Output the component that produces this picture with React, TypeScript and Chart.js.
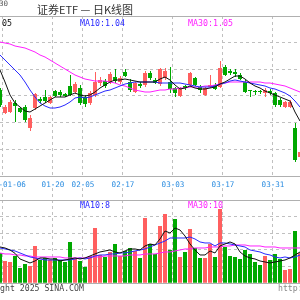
import React, { useEffect, useRef } from "react";
import { Chart, registerables } from "chart.js";

Chart.register(...registerables);

// ---------- data ----------
const days = [
  "01-03", "01-06", "01-07", "01-08", "01-09", "01-10", "01-13", "01-14", "01-15", "01-16",
  "01-17", "01-20", "01-21", "01-22", "01-23", "01-24", "01-27", "02-05", "02-06", "02-07",
  "02-10", "02-11", "02-12", "02-13", "02-14", "02-17", "02-18", "02-19", "02-20", "02-21",
  "02-24", "02-25", "02-26", "02-27", "02-28", "03-03", "03-04", "03-05", "03-06", "03-07",
  "03-10", "03-11", "03-12", "03-13", "03-14", "03-17", "03-18", "03-19", "03-20", "03-21",
  "03-24", "03-25", "03-26", "03-27", "03-28", "03-31", "04-01", "04-02", "04-03", "04-07",
  "04-08",
];

const openP = [
  1.052, 1.006, 1.008, 1.026, 1.016, 1.018, 0.976, 1.016, 1.034, 1.038,
  1.026, 1.050, 1.048, 1.044, 1.060, 1.048, 1.056, 1.038, 1.026, 1.042,
  1.066, 1.070, 1.068, 1.078, 1.068, 1.088, 1.068, 1.048, 1.064, 1.062,
  1.086, 1.072, 1.064, 1.076, 1.068, 1.056, 1.040, 1.060, 1.062, 1.076,
  1.058, 1.042, 1.058, 1.062, 1.058, 1.098, 1.090, 1.088, 1.082, 1.068,
  1.052, 1.050, 1.050, 1.046, 1.050, 1.046, 1.032, 1.018, 1.018, 0.976,
  0.918,
];
const closeP = [
  1.022, 1.018, 1.028, 1.020, 1.008, 0.992, 0.996, 1.044, 1.030, 1.030,
  1.038, 1.040, 1.042, 1.040, 1.042, 1.064, 1.026, 1.024, 1.046, 1.068,
  1.072, 1.060, 1.084, 1.070, 1.076, 1.080, 1.052, 1.066, 1.060, 1.086,
  1.076, 1.066, 1.094, 1.090, 1.054, 1.046, 1.054, 1.056, 1.086, 1.062,
  1.052, 1.056, 1.062, 1.054, 1.096, 1.082, 1.086, 1.084, 1.074, 1.048,
  1.050, 1.048, 1.048, 1.052, 1.046, 1.022, 1.022, 1.028, 1.028, 0.912,
  0.928,
];
const highP = [
  1.056, 1.022, 1.032, 1.032, 1.018, 1.022, 1.002, 1.046, 1.038, 1.052,
  1.040, 1.052, 1.052, 1.046, 1.082, 1.068, 1.062, 1.042, 1.050, 1.088,
  1.078, 1.074, 1.088, 1.094, 1.080, 1.094, 1.074, 1.068, 1.068, 1.090,
  1.090, 1.076, 1.096, 1.096, 1.098, 1.058, 1.058, 1.062, 1.088, 1.078,
  1.062, 1.058, 1.082, 1.066, 1.110, 1.102, 1.094, 1.094, 1.086, 1.072,
  1.052, 1.052, 1.052, 1.056, 1.054, 1.048, 1.036, 1.030, 1.032, 0.986,
  0.932,
];
const lowP = [
  1.018, 1.004, 1.006, 0.988, 1.006, 0.988, 0.970, 1.012, 1.026, 1.026,
  1.024, 1.038, 1.038, 1.038, 1.040, 1.044, 1.022, 1.018, 1.022, 1.038,
  1.060, 1.056, 1.064, 1.066, 1.064, 1.078, 1.048, 1.046, 1.056, 1.058,
  1.072, 1.064, 1.060, 1.072, 1.046, 1.038, 1.038, 1.052, 1.058, 1.060,
  1.046, 1.040, 1.056, 1.052, 1.056, 1.080, 1.082, 1.078, 1.072, 1.046,
  1.038, 1.042, 1.044, 1.038, 1.042, 1.018, 1.018, 1.016, 1.016, 0.908,
  0.916,
];

const ma5 = [
  1.092, 1.068, 1.042, 1.026, 1.018, 1.010, 1.008, 1.014, 1.020, 1.026,
  1.032, 1.038, 1.038, 1.038, 1.042, 1.046, 1.042, 1.040, 1.042, 1.048,
  1.056, 1.062, 1.068, 1.072, 1.072, 1.074, 1.072, 1.070, 1.068, 1.068,
  1.068, 1.068, 1.074, 1.078, 1.072, 1.062, 1.054, 1.056, 1.060, 1.056,
  1.054, 1.054, 1.056, 1.058, 1.064, 1.068, 1.074, 1.080, 1.080, 1.074,
  1.066, 1.060, 1.056, 1.050, 1.046, 1.042, 1.038, 1.034, 1.030, 1.008,
  0.990,
];
const ma10 = [
  1.122, 1.112, 1.102, 1.092, 1.082, 1.068, 1.052, 1.038, 1.026, 1.020,
  1.016, 1.016, 1.018, 1.022, 1.028, 1.036, 1.038, 1.036, 1.038, 1.042,
  1.046, 1.050, 1.052, 1.056, 1.060, 1.064, 1.066, 1.068, 1.068, 1.068,
  1.068, 1.068, 1.066, 1.066, 1.066, 1.066, 1.066, 1.064, 1.062, 1.060,
  1.058, 1.058, 1.058, 1.060, 1.064, 1.066, 1.070, 1.072, 1.070, 1.068,
  1.066, 1.064, 1.062, 1.060, 1.056, 1.054, 1.050, 1.046, 1.040, 1.030,
  1.018,
];
const ma30 = [
  1.148, 1.146, 1.144, 1.140, 1.138, 1.136, 1.132, 1.128, 1.122, 1.118,
  1.112, 1.106, 1.100, 1.094, 1.088, 1.082, 1.078, 1.074, 1.072, 1.070,
  1.070, 1.070, 1.068, 1.066, 1.062, 1.060, 1.056, 1.052, 1.050, 1.048,
  1.048, 1.050, 1.052, 1.052, 1.054, 1.054, 1.056, 1.056, 1.058, 1.058,
  1.058, 1.060, 1.060, 1.062, 1.064, 1.066, 1.068, 1.068, 1.068, 1.068,
  1.068, 1.068, 1.068, 1.066, 1.066, 1.064, 1.062, 1.060, 1.056, 1.052,
  1.048,
];

const volume = [
  9.1, 6.7, 6.4, 8.2, 4.6, 5.8, 5.2, 11.2, 7.0, 7.6,
  7.0, 7.6, 7.0, 6.4, 12.4, 7.3, 6.7, 4.9, 8.2, 16.6,
  8.5, 7.9, 9.4, 11.8, 8.2, 9.7, 10.6, 9.7, 7.6, 19.6,
  11.8, 8.8, 17.2, 20.8, 10.0, 19.3, 7.9, 9.4, 16.3, 10.6,
  7.6, 7.6, 11.8, 7.9, 22.3, 10.9, 8.2, 7.9, 7.3, 10.0,
  8.8, 6.4, 5.5, 8.2, 7.0, 8.8, 7.3, 4.0, 4.3, 15.7,
  9.1,
];
const volMa5 = [
  10.9, 10.6, 10.0, 9.0, 7.3, 6.7, 6.1, 6.7, 7.6, 7.6,
  7.3, 7.3, 6.7, 7.0, 7.3, 7.6, 7.3, 7.6, 8.2, 8.8,
  9.4, 9.7, 10.0, 9.4, 9.1, 9.7, 10.3, 10.3, 10.0, 11.2,
  11.8, 11.5, 13.3, 15.7, 15.1, 16.6, 16.0, 14.2, 11.8, 10.0,
  8.5, 8.5, 9.7, 9.1, 11.2, 11.8, 12.4, 11.8, 9.4, 8.2,
  7.6, 7.3, 6.7, 6.4, 6.1, 6.4, 6.7, 7.0, 7.6, 8.5,
  9.4,
];
const volMa10 = [
  10.6, 10.3, 10.0, 9.7, 9.1, 8.5, 7.9, 7.6, 7.3, 7.0,
  7.0, 7.0, 7.0, 7.0, 7.0, 7.3, 7.6, 7.3, 7.6, 8.2,
  8.5, 8.5, 8.8, 8.8, 9.1, 9.1, 9.4, 9.7, 10.0, 10.3,
  10.9, 11.5, 12.1, 12.7, 13.6, 13.6, 13.6, 13.6, 13.9, 13.3,
  12.4, 12.1, 12.1, 11.2, 12.1, 12.1, 11.8, 11.5, 11.2, 10.9,
  10.0, 9.7, 9.4, 8.8, 8.5, 7.9, 7.6, 7.9, 7.6, 7.9,
  8.5,
];
const volMa30 = [
  9.1, 8.8, 8.8, 8.5, 8.5, 8.2, 8.2, 7.9, 7.9, 7.9,
  7.9, 7.9, 7.9, 7.6, 7.6, 7.6, 7.6, 7.6, 7.9, 7.9,
  7.9, 8.2, 8.2, 8.2, 8.2, 8.2, 8.5, 8.5, 8.5, 8.8,
  8.8, 8.8, 9.1, 9.4, 9.4, 9.7, 10.0, 10.3, 10.3, 10.6,
  10.6, 10.6, 10.9, 10.9, 10.9, 11.2, 11.2, 11.5, 11.5, 11.5,
  11.2, 11.2, 11.2, 10.9, 10.9, 10.9, 10.6, 10.6, 10.6, 10.6,
  10.6,
];

const tickDays = ["01-06", "01-20", "02-05", "02-17", "03-03", "03-17", "03-31"];
const tickTexts = ["2025-01-06", "01-20", "02-05", "02-17", "03-03", "03-17", "03-31"];

const titleText = "证券ETF — 日K线图";
const cornerText = "30";
const priceMaTexts = ["MA5:1.05", "MA10:1.04", "MA30:1.05"];
const volMaTexts = ["MA10:8", "MA30:10"];
const copyrightText = "Copyright 2025 SINA.COM";
const urlText = "http://finance.sina.com.cn";

// ---------- styles ----------
const UP = "#ff5f5f";
const DOWN = "#00a800";
const C_MA5 = "#111111";
const C_MA10 = "#2a2aff";
const C_MA30 = "#ff20ff";
const GRID = "#c0c0c0";
const FRAME = "#b0b0b0";
const AXIS_TEXT = "#2a8ce0";
const MONO = '"DejaVu Sans Mono", monospace';

const candleColor = days.map((_, i) => (closeP[i] >= openP[i] ? UP : DOWN));
const tickIndex = new Map<number, string>();
tickDays.forEach((d, k) => tickIndex.set(days.indexOf(d), tickTexts[k]));
const vGridColor = (c: any) => (tickIndex.has(c.index) ? GRID : "rgba(0,0,0,0)");

const framePlugin = {
  id: "frame",
  beforeDatasetsDraw(chart: any) {
    const { ctx, chartArea: a } = chart;
    const t = Math.round(a.top - 0.5) + 0.5;
    const b = Math.round(a.bottom - 0.5) + 0.5;
    ctx.save();
    ctx.strokeStyle = FRAME;
    ctx.lineWidth = 1;
    ctx.setLineDash([]);
    ctx.beginPath();
    ctx.moveTo(a.left, t);
    ctx.lineTo(a.right, t);
    ctx.moveTo(a.left, b);
    ctx.lineTo(a.right, b);
    ctx.stroke();
    ctx.restore();
  },
};

type TextItem = { text: string; x: number; y: number; font: string; color: string; align?: CanvasTextAlign };
const textPlugin = (id: string, items: TextItem[]) => ({
  id,
  afterDraw(chart: any) {
    const ctx = chart.ctx as CanvasRenderingContext2D;
    ctx.save();
    for (const t of items) {
      ctx.font = t.font;
      ctx.fillStyle = t.color;
      ctx.textAlign = t.align || "left";
      ctx.textBaseline = "alphabetic";
      ctx.fillText(t.text, t.x, t.y);
    }
    ctx.restore();
  },
});

const lineDs = (label: string, data: number[], color: string) => ({
  type: "line" as const,
  label,
  data,
  borderColor: color,
  borderWidth: 1,
  pointRadius: 0,
  tension: 0,
  fill: false,
  order: 0,
});

export default function App() {
  const priceRef = useRef<HTMLCanvasElement>(null);
  const volRef = useRef<HTMLCanvasElement>(null);

  useEffect(() => {
    const priceChart = new Chart(priceRef.current!, {
      type: "bar",
      data: {
        labels: days,
        datasets: [
          lineDs("MA5", ma5, C_MA5),
          lineDs("MA10", ma10, C_MA10),
          lineDs("MA30", ma30, C_MA30),
          {
            label: "body",
            data: days.map((_, i) => [openP[i], closeP[i]]),
            backgroundColor: candleColor,
            barThickness: 4,
            grouped: false,
            minBarLength: 1,
            inflateAmount: 0,
            borderWidth: 0,
            order: 1,
          },
          {
            label: "wick",
            xAxisID: "xw",
            data: days.map((_, i) => ({ x: i, y: [lowP[i], highP[i]] })),
            backgroundColor: candleColor,
            barThickness: 1,
            grouped: false,
            inflateAmount: 0,
            borderWidth: 0,
            order: 2,
          },
        ] as any,
      },
      options: {
        animation: false,
        responsive: false,
        maintainAspectRatio: false,
        events: [],
        layout: { padding: { top: 16, left: 0, right: 0, bottom: 0 }, autoPadding: false } as any,
        plugins: { legend: { display: false }, tooltip: { enabled: false } },
        scales: {
          x: {
            type: "category",
            offset: false,
            grid: {
              offset: true,
              color: vGridColor,
              drawTicks: true,
              tickLength: 4,
              tickColor: "rgba(0,0,0,0)",
            },
            border: { display: false, dash: [3, 3] },
            ticks: {
              autoSkip: false,
              maxRotation: 0,
              minRotation: 0,
              padding: 0,
              labelOffset: -2,
              color: AXIS_TEXT,
              font: { family: "DejaVu Sans Mono", size: 7.6 },
              callback: (_v: any, i: number) => tickIndex.get(i) ?? "",
            },
            afterFit: (s: any) => {
              s.height = 12;
            },
          },
          xw: {
            type: "linear",
            axis: "x",
            display: false,
            offset: false,
            bounds: "data",
            grid: { offset: false },
            min: -0.1,
            max: 59.9,
          },
          y: {
            min: 0.88,
            max: 1.2,
            ticks: { display: false, count: 7 },
            grid: { color: GRID, drawTicks: false },
            border: { display: false, dash: [3, 3] },
            afterFit: (s: any) => {
              s.width = 0;
            },
          },
        } as any,
      },
      plugins: [
        framePlugin,
        textPlugin("priceText", [
          { text: cornerText, x: -1, y: 6, font: `7.5px ${MONO}`, color: "#555" },
          { text: titleText, x: 85, y: 14, font: '11px "Noto Sans CJK SC"', color: "#333", align: "center" },
          { text: priceMaTexts[0], x: -28, y: 26, font: `8.3px ${MONO}`, color: C_MA5 },
          { text: priceMaTexts[1], x: 80, y: 26, font: `8.3px ${MONO}`, color: C_MA10 },
          { text: priceMaTexts[2], x: 188, y: 26, font: `8.3px ${MONO}`, color: C_MA30 },
        ]),
      ],
    });

    const volChart = new Chart(volRef.current!, {
      type: "bar",
      data: {
        labels: days,
        datasets: [
          lineDs("VMA5", volMa5, C_MA5),
          lineDs("VMA10", volMa10, C_MA10),
          lineDs("VMA30", volMa30, C_MA30),
          {
            label: "volume",
            data: volume,
            backgroundColor: candleColor,
            barThickness: 4,
            inflateAmount: 0,
            borderWidth: 0,
            order: 1,
          },
        ] as any,
      },
      options: {
        animation: false,
        responsive: false,
        maintainAspectRatio: false,
        events: [],
        layout: { padding: { top: 0, left: 0, right: 0, bottom: 16.7 }, autoPadding: false } as any,
        plugins: { legend: { display: false }, tooltip: { enabled: false } },
        scales: {
          x: {
            type: "category",
            position: "top",
            offset: false,
            grid: {
              offset: true,
              color: vGridColor,
              drawTicks: true,
              tickLength: 12,
              tickColor: vGridColor,
              tickBorderDash: [3, 3],
            },
            border: { display: false, dash: [3, 3] },
            ticks: { display: false, autoSkip: false, maxRotation: 0, minRotation: 0 },
          },
          y: {
            min: 0,
            max: 25,
            ticks: { display: false, count: 6 },
            grid: { color: GRID, drawTicks: false },
            border: { display: false, dash: [3, 3] },
            afterFit: (s: any) => {
              s.width = 0;
            },
          },
        } as any,
      },
      plugins: [
        framePlugin,
        textPlugin("volText", [
          { text: volMaTexts[0], x: 80, y: 20, font: `8.3px ${MONO}`, color: C_MA10 },
          { text: volMaTexts[1], x: 188, y: 20, font: `8.3px ${MONO}`, color: C_MA30 },
          { text: copyrightText, x: -29.5, y: 103, font: `8.2px ${MONO}`, color: "#444" },
          { text: urlText, x: 278, y: 103, font: `8.2px ${MONO}`, color: "#888" },
        ]),
      ],
    });

    return () => {
      priceChart.destroy();
      volChart.destroy();
    };
  }, []);

  return (
    <div
      style={{
        position: "fixed",
        left: 0,
        top: 0,
        width: 300,
        height: 300,
        background: "#fff",
        overflow: "hidden",
      }}
    >
      <canvas
        ref={priceRef}
        width={300}
        height={188}
        style={{ position: "absolute", left: 0, top: 0, width: 300, height: 188 }}
      />
      <canvas
        ref={volRef}
        width={300}
        height={112}
        style={{ position: "absolute", left: 0, top: 188, width: 300, height: 112 }}
      />
    </div>
  );
}
